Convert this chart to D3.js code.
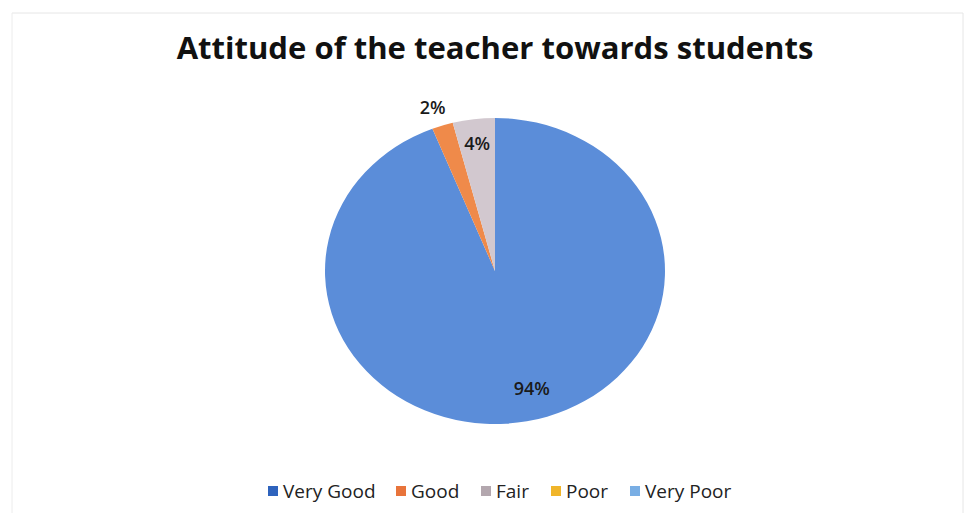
<!DOCTYPE html>
<html>
<head>
<meta charset="utf-8">
<script src="https://cdn.jsdelivr.net/npm/d3@7"></script>
<style>
  html, body { margin: 0; padding: 0; background: #ffffff; }
  svg { display: block; }
</style>
</head>
<body>
<svg id="chart" width="968" height="513"></svg>
<script>
const title = "Attitude of the teacher towards students";
const categories = ["Very Good", "Good", "Fair", "Poor", "Very Poor"];
const values = [94, 2, 4, 0, 0];
const valueLabels = ["94%", "2%", "4%", "", ""];
const sliceColors = ["#5b8dd9", "#ef8a4a", "#d2c8cf", "#f0b52a", "#7aaee3"];
const swatchColors = ["#2e63bd", "#e8743b", "#b3a7ae", "#f0b52a", "#79aee4"];

const svg = d3.select("#chart");
const font = "'Open Sans', 'DejaVu Sans', sans-serif";

// faint frame from the scan
svg.append("line").attr("x1", 12).attr("x2", 963).attr("y1", 13).attr("y2", 13)
  .attr("stroke", "#e6e6e6").attr("stroke-width", 1);
svg.append("line").attr("x1", 12).attr("x2", 12).attr("y1", 13).attr("y2", 513)
  .attr("stroke", "#ececec").attr("stroke-width", 1);
svg.append("line").attr("x1", 963).attr("x2", 963).attr("y1", 13).attr("y2", 513)
  .attr("stroke", "#e6e6e6").attr("stroke-width", 1);

// title
const t = svg.append("text")
  .attr("x", 495).attr("y", 59)
  .attr("text-anchor", "middle")
  .attr("font-family", font)
  .attr("font-weight", "bold")
  .attr("font-size", 27)
  .attr("fill", "#111")
  .text(title);
const tw = t.node().getComputedTextLength();
t.attr("font-size", 27 * 637 / tw);

// pie
const cx = 495, cy = 271, rx = 170, ry = 153;
const pie = d3.pie().sort(null).value(d => d.value);
const data = categories.map((c, i) => ({ cat: c, value: values[i], label: valueLabels[i], color: sliceColors[i] }));
const arcs = pie(data);
const arc = d3.arc().innerRadius(0).outerRadius(rx);

const g = svg.append("g").attr("transform", `translate(${cx},${cy}) scale(1,${ry / rx})`);
g.selectAll("path").data(arcs.filter(a => a.data.value > 0)).join("path")
  .attr("d", arc)
  .attr("fill", d => d.data.color)
  .attr("stroke", "none");

// labels
const labelK = { "Very Good": 0.78, "Good": 1.13, "Fair": 0.84 };
const labelShift = { "Very Good": 12, "Good": -3, "Fair": 0 };
arcs.filter(a => a.data.value > 0).forEach(a => {
  const mid = (a.startAngle + a.endAngle) / 2;
  const k = labelK[a.data.cat];
  const x = cx + Math.sin(mid) * rx * k + labelShift[a.data.cat];
  const y = cy - Math.cos(mid) * ry * k;
  svg.append("text")
    .attr("x", x).attr("y", y)
    .attr("text-anchor", "middle")
    .attr("dominant-baseline", "central")
    .attr("font-family", font)
    .attr("font-weight", "600")
    .attr("font-size", 18)
    .attr("fill", "#1a1a1a")
    .text(a.data.label);
});

// legend
const legendX = [268, 396, 481, 551, 630];
const lg = svg.append("g");
categories.forEach((c, i) => {
  lg.append("rect")
    .attr("x", legendX[i]).attr("y", 486)
    .attr("width", 10).attr("height", 10)
    .attr("fill", swatchColors[i]);
  lg.append("text")
    .attr("x", legendX[i] + 15).attr("y", 498)
    .attr("font-family", font)
    .attr("font-size", 19)
    .attr("fill", "#222")
    .text(c);
});
</script>
</body>
</html>
